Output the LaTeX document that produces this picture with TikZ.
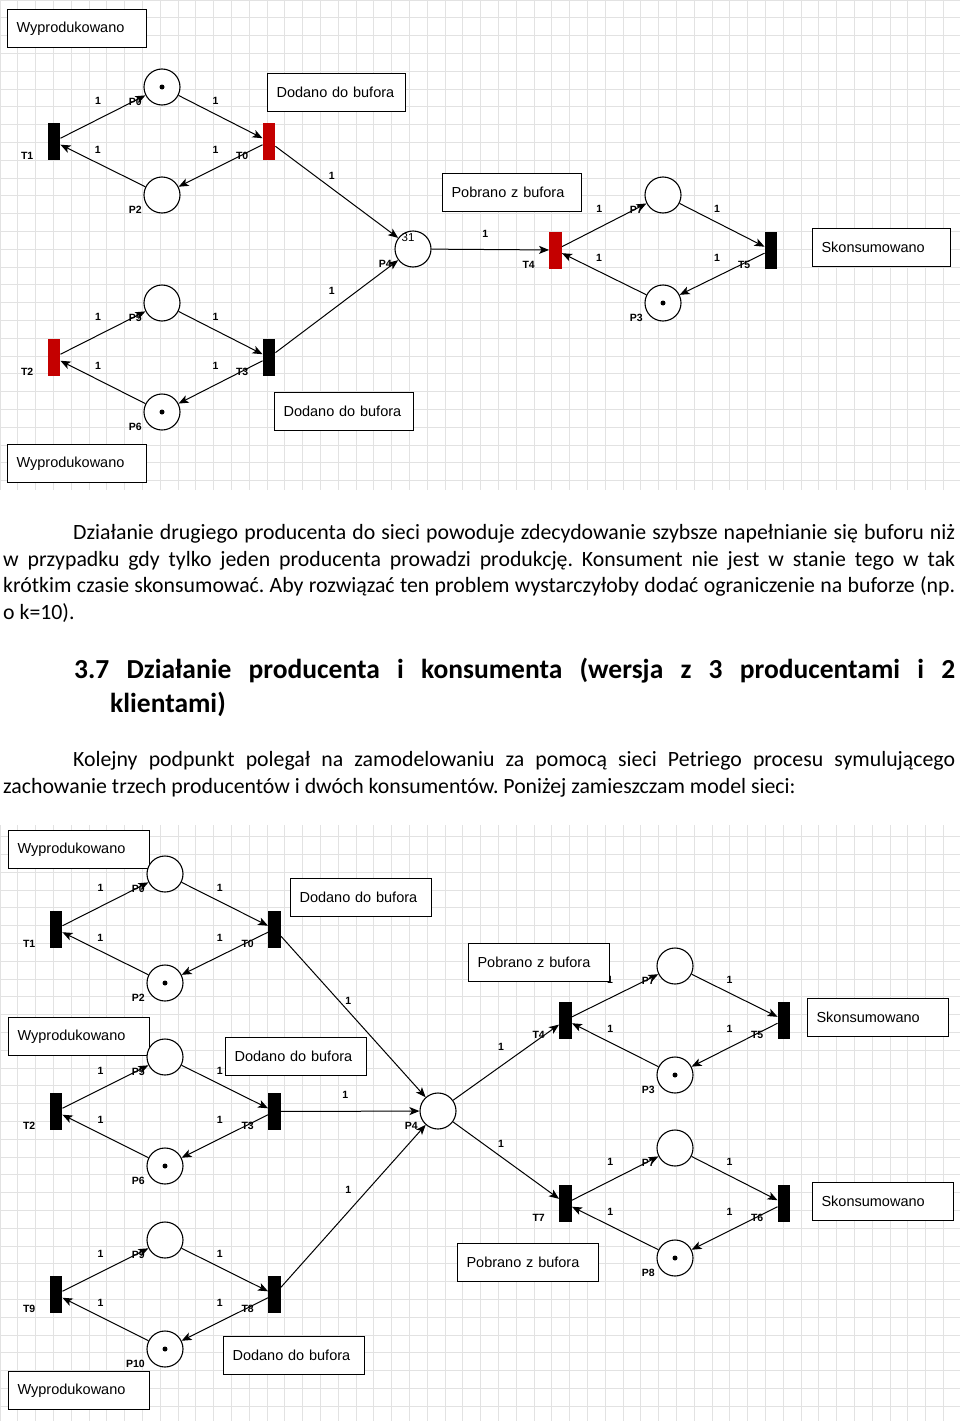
\documentclass[tikz,border=0pt]{standalone}
\usepackage{fontspec}
\setmainfont{Carlito}
\newfontfamily\arial{Liberation Sans}
\usetikzlibrary{arrows.meta}
\frenchspacing
\definecolor{pnred}{RGB}{196,0,0}
\definecolor{gridc}{RGB}{226,226,226}
\pgfdeclarelayer{gridl}
\pgfdeclarelayer{labl}
\pgfdeclarelayer{arcl}
\pgfdeclarelayer{boxl}
\pgfsetlayers{gridl,labl,arcl,boxl,main}
\tikzset{
  pl/.style={circle, draw, line width=1.1pt, minimum size=36pt, inner sep=0pt, fill=white},
  tr/.style={rectangle, fill=black, minimum width=12.5pt, minimum height=37pt, inner sep=0pt},
  trr/.style={tr, fill=pnred},
  tok/.style={circle, fill=black, minimum size=5pt, inner sep=0pt},
  bx/.style={draw, line width=1.1pt, fill=white, anchor=north west, inner xsep=9pt, inner ysep=0pt,
    text width=#1, align=left, minimum height=38pt, font=\arial\fontsize{14.5}{16}\selectfont},
  pnarc/.style={line width=1pt, -{Stealth[length=10pt,width=8pt,inset=2.5pt]}},
  wl/.style={font=\arial\bfseries\fontsize{10.5}{11}\selectfont, inner sep=0pt, pos=0.5, xshift=-5pt, yshift=16pt},
  lb/.style={font=\arial\bfseries\fontsize{10.5}{11}\selectfont, inner sep=0pt, anchor=east},
  cnt/.style={font=\arial\fontsize{11.5}{12}\selectfont, inner sep=0pt},
  txt/.style={anchor=base west, inner sep=0pt, font=\fontsize{21.8}{26.6}\selectfont},
  hd/.style={anchor=base west, inner sep=0pt, font=\bfseries\fontsize{27.5}{30}\selectfont},
  gridline/.style={draw=gridc, line width=0.7pt}
}
\begin{document}
\begin{tikzpicture}[x=1pt,y=-1pt]
\useasboundingbox (0,0) rectangle (960,1421);
\begin{pgfonlayer}{gridl}
\draw[gridline, step=17.8pt] (0,0) grid (960,490);
\draw[gridline, step=17.8pt] (0,825) grid (960,1421);
\end{pgfonlayer}

% ================= TOP NET =================
\node[pl] (aP0) at (162,87) {};
\node[pl] (aP2) at (162,195) {};
\node[pl] (aP4) at (413,249) {};
\node[pl] (aP7) at (663,195) {};
\node[pl] (aP3) at (663,303) {};
\node[pl] (aP5) at (162,303) {};
\node[pl] (aP6) at (162,412) {};
\node[tr]  (aT1) at (54,141.5) {};
\node[trr] (aT0) at (269,141.5) {};
\node[trr] (aT4) at (555.5,250) {};
\node[tr]  (aT5) at (771,250) {};
\node[trr] (aT2) at (54,357.5) {};
\node[tr]  (aT3) at (269,357.5) {};
\node[tok] (aP0t) at (aP0) {};
\node[tok] (aP3t) at (aP3) {};
\node[tok] (aP6t) at (aP6) {};
\node[cnt] (aP4c) at ([xshift=-5pt,yshift=11pt]aP4.center) {31};

\begin{pgfonlayer}{labl}
\node[lb] (aP0l) at ([xshift=-20pt,yshift=-15pt]aP0.center) {P0};
\node[lb] (aP2l) at ([xshift=-20pt,yshift=-15pt]aP2.center) {P2};
\node[lb] (aP4l) at ([xshift=-21pt,yshift=-15pt]aP4.center) {P4};
\node[lb] (aP7l) at ([xshift=-20pt,yshift=-15pt]aP7.center) {P7};
\node[lb] (aP3l) at ([xshift=-20pt,yshift=-15pt]aP3.center) {P3};
\node[lb] (aP5l) at ([xshift=-20pt,yshift=-15pt]aP5.center) {P5};
\node[lb] (aP6l) at ([xshift=-20pt,yshift=-15pt]aP6.center) {P6};
\node[lb] (aT1l) at ([xshift=-20.5pt,yshift=-14.5pt]aT1.center) {T1};
\node[lb] (aT0l) at ([xshift=-20.5pt,yshift=-14.5pt]aT0.center) {T0};
\node[lb] (aT4l) at ([xshift=-20.5pt,yshift=-14.5pt]aT4.center) {T4};
\node[lb] (aT5l) at ([xshift=-20.5pt,yshift=-14.5pt]aT5.center) {T5};
\node[lb] (aT2l) at ([xshift=-20.5pt,yshift=-14.5pt]aT2.center) {T2};
\node[lb] (aT3l) at ([xshift=-20.5pt,yshift=-14.5pt]aT3.center) {T3};
\end{pgfonlayer}

\begin{pgfonlayer}{arcl}
\draw[pnarc] (aT1) -- node[wl]{1} (aP0);
\draw[pnarc] (aP0) -- node[wl]{1} (aT0);
\draw[pnarc] (aT0) -- node[wl]{1} (aP2);
\draw[pnarc] (aP2) -- node[wl]{1} (aT1);
\draw[pnarc] (aT0) -- node[wl]{1} (aP4);
\draw[pnarc] (aT2) -- node[wl]{1} (aP5);
\draw[pnarc] (aP5) -- node[wl]{1} (aT3);
\draw[pnarc] (aT3) -- node[wl]{1} (aP6);
\draw[pnarc] (aP6) -- node[wl]{1} (aT2);
\draw[pnarc] (aT3) -- node[wl]{1} (aP4);
\draw[pnarc] (aP4) -- node[wl]{1} (aT4);
\draw[pnarc] (aT4) -- node[wl]{1} (aP7);
\draw[pnarc] (aP7) -- node[wl]{1} (aT5);
\draw[pnarc] (aT5) -- node[wl]{1} (aP3);
\draw[pnarc] (aP3) -- node[wl]{1} (aT4);
\end{pgfonlayer}

\begin{pgfonlayer}{boxl}
\node[bx=121pt] (aW1) at (7,9) {Wyprodukowano};
\node[bx=120pt] (aD1) at (267,73) {Dodano do bufora};
\node[bx=121pt] (aPb1) at (442,173) {Pobrano z bufora};
\node[bx=120pt] (aSk1) at (812,228) {Skonsumowano};
\node[bx=121pt] (aD2) at (274,392) {Dodano do bufora};
\node[bx=121pt] (aW2) at (7,444) {Wyprodukowano};
\end{pgfonlayer}

% ================= TEXT =================
\node[txt] (l1) at (73,539) {\makebox[882pt][s]{Działanie drugiego producenta do sieci powoduje zdecydowanie szybsze napełnianie się buforu niż}};
\node[txt] (l2) at (3,566) {\makebox[952pt][s]{w przypadku gdy tylko jeden producenta prowadzi produkcję. Konsument nie jest w stanie tego w tak}};
\node[txt] (l3) at (3,592.5) {\makebox[952pt][s]{krótkim czasie skonsumować. Aby rozwiązać ten problem wystarczyłoby dodać ograniczenie na buforze (np.}};
\node[txt] (l4) at (3,619) {o k=10).};
\node[hd] (h1) at (74,678) {\makebox[881pt][s]{3.7 Działanie producenta i konsumenta (wersja z 3 producentami i 2}};
\node[hd] (h2) at (110,712) {klientami)};
\node[txt] (k1) at (73,766.5) {\makebox[882pt][s]{Kolejny podpunkt polegał na zamodelowaniu za pomocą sieci Petriego procesu symulującego}};
\node[txt] (k2) at (3,793.5) {zachowanie trzech producentów i dwóch konsumentów. Poniżej zamieszczam model sieci:};

% ================= BOTTOM NET =================
\node[pl] (bP0) at (165,874) {};
\node[pl] (bP2) at (165,983) {};
\node[pl] (bP5) at (165,1057) {};
\node[pl] (bP6) at (165,1166) {};
\node[pl] (bP9) at (165,1240) {};
\node[pl] (bP10) at (165,1349) {};
\node[pl] (bP4) at (438,1111) {};
\node[pl] (bP7a) at (675,966) {};
\node[pl] (bP3) at (675,1075) {};
\node[pl] (bP7b) at (675,1148) {};
\node[pl] (bP8) at (675,1258) {};
\node[tr] (bT1) at (56,929) {};
\node[tr] (bT0) at (274.5,929) {};
\node[tr] (bT2) at (56,1111.5) {};
\node[tr] (bT3) at (274.5,1111.5) {};
\node[tr] (bT9) at (56,1294.5) {};
\node[tr] (bT8) at (274.5,1294.5) {};
\node[tr] (bT4) at (565.5,1020) {};
\node[tr] (bT5) at (784,1020) {};
\node[tr] (bT7) at (565.5,1203.5) {};
\node[tr] (bT6) at (784,1203.5) {};
\node[tok] (bP2t) at (bP2) {};
\node[tok] (bP6t) at (bP6) {};
\node[tok] (bP10t) at (bP10) {};
\node[tok] (bP3t) at (bP3) {};
\node[tok] (bP8t) at (bP8) {};

\begin{pgfonlayer}{labl}
\node[lb] (bP0l) at ([xshift=-20pt,yshift=-15pt]bP0.center) {P0};
\node[lb] (bP2l) at ([xshift=-20pt,yshift=-15pt]bP2.center) {P2};
\node[lb] (bP5l) at ([xshift=-20pt,yshift=-15pt]bP5.center) {P5};
\node[lb] (bP6l) at ([xshift=-20pt,yshift=-15pt]bP6.center) {P6};
\node[lb] (bP9l) at ([xshift=-20pt,yshift=-15pt]bP9.center) {P9};
\node[lb] (bP10l) at ([xshift=-20pt,yshift=-15pt]bP10.center) {P10};
\node[lb] (bP4l) at ([xshift=-20pt,yshift=-15pt]bP4.center) {P4};
\node[lb] (bP7al) at ([xshift=-20pt,yshift=-15pt]bP7a.center) {P7};
\node[lb] (bP3l) at ([xshift=-20pt,yshift=-15pt]bP3.center) {P3};
\node[lb] (bP7bl) at ([xshift=-20pt,yshift=-15pt]bP7b.center) {P7};
\node[lb] (bP8l) at ([xshift=-20pt,yshift=-15pt]bP8.center) {P8};
\node[lb] (bT1l) at ([xshift=-20.5pt,yshift=-14.5pt]bT1.center) {T1};
\node[lb] (bT0l) at ([xshift=-20.5pt,yshift=-14.5pt]bT0.center) {T0};
\node[lb] (bT2l) at ([xshift=-20.5pt,yshift=-14.5pt]bT2.center) {T2};
\node[lb] (bT3l) at ([xshift=-20.5pt,yshift=-14.5pt]bT3.center) {T3};
\node[lb] (bT9l) at ([xshift=-20.5pt,yshift=-14.5pt]bT9.center) {T9};
\node[lb] (bT8l) at ([xshift=-20.5pt,yshift=-14.5pt]bT8.center) {T8};
\node[lb] (bT4l) at ([xshift=-20.5pt,yshift=-15pt]bT4.center) {T4};
\node[lb] (bT5l) at ([xshift=-20.5pt,yshift=-15pt]bT5.center) {T5};
\node[lb] (bT7l) at ([xshift=-20.5pt,yshift=-14.5pt]bT7.center) {T7};
\node[lb] (bT6l) at ([xshift=-20.5pt,yshift=-14.5pt]bT6.center) {T6};
\end{pgfonlayer}

\begin{pgfonlayer}{arcl}
\draw[pnarc] (bT1) -- node[wl]{1} (bP0);
\draw[pnarc] (bP0) -- node[wl]{1} (bT0);
\draw[pnarc] (bT0) -- node[wl]{1} (bP2);
\draw[pnarc] (bP2) -- node[wl]{1} (bT1);
\draw[pnarc] (bT0) -- node[wl]{1} (bP4);
\draw[pnarc] (bT2) -- node[wl]{1} (bP5);
\draw[pnarc] (bP5) -- node[wl]{1} (bT3);
\draw[pnarc] (bT3) -- node[wl]{1} (bP6);
\draw[pnarc] (bP6) -- node[wl]{1} (bT2);
\draw[pnarc] (bT3) -- node[wl]{1} (bP4);
\draw[pnarc] (bT9) -- node[wl]{1} (bP9);
\draw[pnarc] (bP9) -- node[wl]{1} (bT8);
\draw[pnarc] (bT8) -- node[wl]{1} (bP10);
\draw[pnarc] (bP10) -- node[wl]{1} (bT9);
\draw[pnarc] (bT8) -- node[wl]{1} (bP4);
\draw[pnarc] (bP4) -- node[wl]{1} (bT4);
\draw[pnarc] (bT4) -- node[wl]{1} (bP7a);
\draw[pnarc] (bP7a) -- node[wl]{1} (bT5);
\draw[pnarc] (bT5) -- node[wl]{1} (bP3);
\draw[pnarc] (bP3) -- node[wl]{1} (bT4);
\draw[pnarc] (bP4) -- node[wl]{1} (bT7);
\draw[pnarc] (bT7) -- node[wl]{1} (bP7b);
\draw[pnarc] (bP7b) -- node[wl]{1} (bT6);
\draw[pnarc] (bT6) -- node[wl]{1} (bP8);
\draw[pnarc] (bP8) -- node[wl]{1} (bT7);
\end{pgfonlayer}

\begin{pgfonlayer}{boxl}
\node[bx=123pt] (bW1) at (8,830) {Wyprodukowano};
\node[bx=123pt] (bD1) at (290,878) {Dodano do bufora};
\node[bx=123pt] (bW2) at (8,1017) {Wyprodukowano};
\node[bx=123pt] (bD2) at (225,1037) {Dodano do bufora};
\node[bx=123pt] (bPb1) at (468,943) {Pobrano z bufora};
\node[bx=123pt] (bSk1) at (807,998) {Skonsumowano};
\node[bx=123pt] (bSk2) at (812,1182) {Skonsumowano};
\node[bx=123pt] (bPb2) at (457,1243) {Pobrano z bufora};
\node[bx=123pt] (bD3) at (223,1336) {Dodano do bufora};
\node[bx=123pt] (bW3) at (8,1371) {Wyprodukowano};
\end{pgfonlayer}
\end{tikzpicture}
\end{document}
